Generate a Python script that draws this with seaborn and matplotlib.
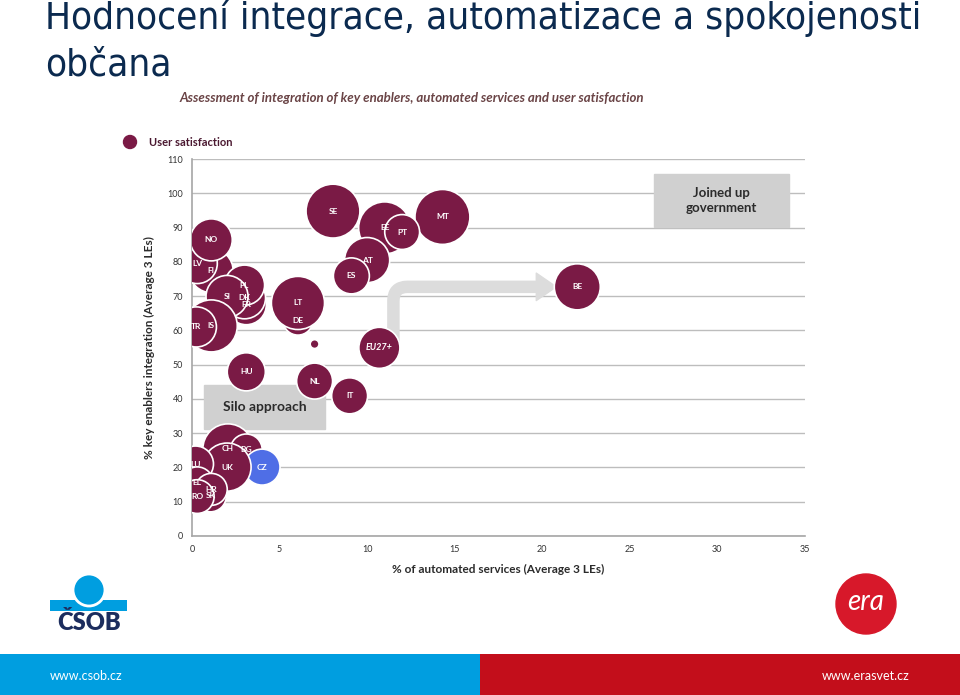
import matplotlib
matplotlib.use("Agg")
import matplotlib.pyplot as plt
from matplotlib.patches import Rectangle, Circle
import pandas as pd
import seaborn as sns

# data (x: % automated services, y: % key enablers integration)
countries = ["SE", "MT", "EE", "PT", "AT", "ES", "BE", "DE", "LT", "", "EU27+", "NL", "IT", "HU",
             "FI", "LV", "NO", "FR", "DK", "PL", "SI", "IS", "TR",
             "CH", "BG", "CZ", "UK", "LU", "EL", "SK", "HR", "RO"]
automated = [8.05, 14.3, 11.0, 12.0, 10.0, 9.1, 22.0, 6.05, 6.05, 7.0, 10.7, 7.0, 9.0, 3.1,
             1.1, 0.3, 1.1, 3.1, 3.0, 3.0, 2.0, 1.1, 0.25,
             2.05, 3.1, 4.0, 2.0, 0.2, 0.3, 1.05, 1.1, 0.3]
integration = [94.8, 93.1, 89.9, 88.7, 80.5, 75.9, 72.7, 63.0, 68.0, 56.0, 54.9, 45.2, 40.9, 47.9,
               77.4, 79.5, 86.4, 67.5, 69.5, 73.2, 69.9, 61.3, 61.0,
               25.4, 25.1, 20.1, 20.1, 21.0, 15.5, 11.7, 13.6, 11.5]
satisfaction = [74, 77, 69, 31, 52, 33, 54, 23, 72, 2, 43, 33, 33, 37,
                49, 41, 45, 41, 45, 41, 45, 69, 41,
                64, 26, 33, 59, 33, 26, 26, 26, 29]
group = ["EU"] * len(countries)
group[countries.index("CZ")] = "CZ"

df = pd.DataFrame({"country": countries, "automated": automated,
                   "integration": integration, "satisfaction": satisfaction, "group": group})

maroon = "#7A1A45"
blue = "#4F6EE6"

sns.set_style("white")
plt.rcParams["font.family"] = ["Lato", "DejaVu Sans"]

fig = plt.figure(figsize=(9.6, 6.95), dpi=100)

# decoration layer in pixel coordinates
deco = fig.add_axes([0, 0, 1, 1])
deco.set_xlim(0, 960)
deco.set_ylim(695, 0)
deco.axis("off")

title_kw = dict(fontsize=27.7, color="#0B2A4F", family=["DejaVu Sans"],
                fontstretch="condensed", va="baseline")
deco.text(45, 29, "Hodnocení integrace, automatizace a spokojenosti", **title_kw)
deco.text(45, 76, "občana", **title_kw)
deco.text(180, 98, "Assessment of integration of key enablers, automated services and user satisfaction",
          fontsize=9.5, color="#6A4446", weight="bold", style="italic", va="center")
deco.add_patch(Circle((130, 142), 6.5, color=maroon))
deco.text(149, 142, "User satisfaction", fontsize=8, color="#4A1830", weight="bold", va="center")

# footer bands
deco.add_patch(Rectangle((0, 654), 480, 41, color="#009EE0", lw=0))
deco.add_patch(Rectangle((480, 654), 480, 41, color="#C30E1B", lw=0))
deco.text(50, 676, "www.csob.cz", color="white", fontsize=9, va="center")
deco.text(910, 676, "www.erasvet.cz", color="white", fontsize=9, va="center", ha="right")

# logos
deco.add_patch(Rectangle((50, 600), 77, 11, color="#009EE0", lw=0))
deco.add_patch(Circle((89, 590), 16, color="#009EE0", ec="white", lw=2))
deco.text(89, 623, "ČSOB", fontsize=17, weight="heavy", color="#1C2D5E", ha="center", va="center")
deco.add_patch(Circle((866, 604), 30, color="#D7182A"))
deco.text(866, 602, "era", fontsize=20, style="italic", color="white", ha="center", va="center")

# chart
ax = fig.add_axes([0.2, 0.2288, 0.6385, 0.5424])
ax.patch.set_alpha(0)
ax.set_xlim(0, 35)
ax.set_ylim(0, 110)
ax.set_xticks(range(0, 36, 5))
ax.set_yticks(range(0, 111, 10))
ax.yaxis.grid(True, color="#BDBDBD", lw=1)
ax.set_axisbelow(True)
for s in ["top", "right"]:
    ax.spines[s].set_visible(False)
for s in ["left", "bottom"]:
    ax.spines[s].set_color("#A6A6A6")
    ax.spines[s].set_linewidth(1.2)
ax.tick_params(axis="both", labelsize=6.5, colors="#A6A6A6", labelcolor="#333333", length=3)

# annotation boxes and arrow
ax.add_patch(Rectangle((0.68, 31.3), 6.9, 12.8, color="#D0D0D0", zorder=1))
ax.text(4.13, 37.7, "Silo approach", ha="center", va="center", fontsize=10, weight="bold",
        color="#2B2B2B", zorder=2)
ax.add_patch(Rectangle((26.4, 90.2), 7.7, 15.4, color="#D0D0D0", zorder=1))
ax.text(30.25, 97.9, "Joined up\ngovernment", ha="center", va="center", fontsize=9.5,
        weight="bold", color="#2B2B2B", zorder=2, linespacing=1.3)
ax.annotate("", xy=(19.6, 72.7), xytext=(11.5, 55),
            arrowprops=dict(arrowstyle="-", lw=9, color="#DCDCDC",
                            connectionstyle="angle,angleA=90,angleB=0,rad=14",
                            shrinkA=0, shrinkB=0), zorder=1)
ax.annotate("", xy=(20.8, 72.7), xytext=(19.5, 72.7),
            arrowprops=dict(arrowstyle="simple,head_width=1.1,head_length=0.8,tail_width=0.01",
                            color="#DCDCDC", mutation_scale=18, shrinkA=0, shrinkB=0), zorder=1)

sns.scatterplot(data=df, x="automated", y="integration", size="satisfaction",
                sizes=(0, 2033), size_norm=(0, 100), hue="group",
                palette={"EU": maroon, "CZ": blue}, edgecolor="white", linewidth=1.2,
                alpha=1, legend=False, ax=ax, zorder=3)

for _, row in df.iterrows():
    if not row["country"]:
        continue
    ax.text(row["automated"], row["integration"], row["country"], color="white",
            fontsize=6 if row["country"] != "EU27+" else 6.5, weight="bold",
            style="italic" if row["country"] == "EU27+" else "normal",
            ha="center", va="center", zorder=4)

ax.set_xlabel("% of automated services (Average 3 LEs)", fontsize=8.5, weight="bold",
              color="#2B2B2B", labelpad=7)
ax.set_ylabel("% key enablers integration (Average 3 LEs)", fontsize=8.5, weight="bold",
              color="#2B2B2B", labelpad=9)

fig.savefig("out.png", dpi=100)
